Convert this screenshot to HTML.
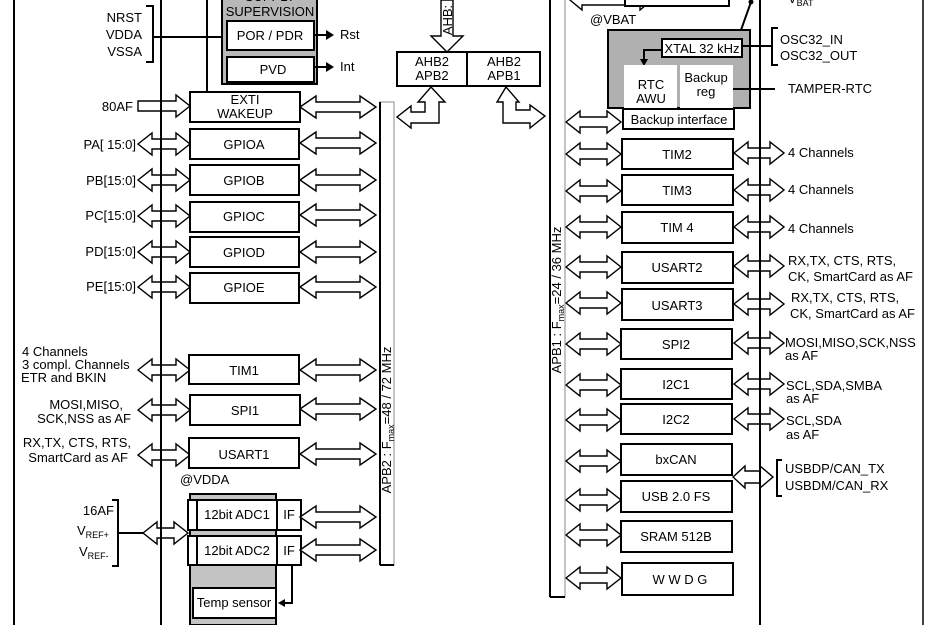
<!DOCTYPE html>
<html><head><meta charset="utf-8"><style>
html,body{margin:0;padding:0;background:#fff;}
svg{display:block;}
text{font-family:"Liberation Sans",Arial,sans-serif;font-size:13px;fill:#000;}
.b{fill:#fff;stroke:#000;stroke-width:2;}
.a{fill:#fff;stroke:#000;stroke-width:1.4;}
.l{stroke:#000;stroke-width:2;fill:none;}
</style></head><body>
<svg width="931" height="625" viewBox="0 0 931 625" xmlns="http://www.w3.org/2000/svg">
<defs>
<polygon id="la" class="a" points="138,0 152,-11 152,-5 176,-5 176,-11 190,0 176,11 176,5 152,5 152,11"/>
<polygon id="ra" class="a" points="300,0 316,-11 316,-5 360,-5 360,-11 376,0 360,11 360,5 316,5 316,11"/>
<polygon id="ba" class="a" points="566,0 580,-11 580,-5 607,-5 607,-11 621,0 607,11 607,5 580,5 580,11"/>
<polygon id="rr" class="a" points="734,0 748,-11 748,-5 770,-5 770,-11 784,0 770,11 770,5 748,5 748,11"/>
</defs>
<line x1="14" y1="0" x2="14" y2="625" class="l"/>
<line x1="923" y1="0" x2="923" y2="625" stroke="#000" stroke-width="1.5"/>
<line x1="207" y1="0" x2="207" y2="92" class="l"/>

<!-- supply supervision -->
<rect x="222" y="-4" width="95" height="88" fill="#b8b8b8" stroke="#000" stroke-width="2"/>
<text x="270" y="1" text-anchor="middle">SUPPLY</text>
<text x="270" y="16" text-anchor="middle">SUPERVISION</text>
<rect x="227" y="21" width="87" height="29" class="b"/>
<text x="270" y="40" text-anchor="middle">POR / PDR</text>
<rect x="227" y="57" width="87" height="25" class="b"/>
<text x="273" y="74" text-anchor="middle">PVD</text>
<line x1="314" y1="35" x2="328" y2="35" class="l"/><polygon points="326,30 334,35 326,40"/>
<text x="340" y="39">Rst</text>
<line x1="314" y1="67" x2="328" y2="67" class="l"/><polygon points="326,62 334,67 326,72"/>
<text x="340" y="71">Int</text>
<text x="142" y="22" text-anchor="end">NRST</text>
<text x="142" y="39" text-anchor="end">VDDA</text>
<text x="142" y="56" text-anchor="end">VSSA</text>
<polyline points="146,6 153,6 153,62 146,62" class="l"/>
<line x1="153" y1="37" x2="222" y2="37" class="l"/>

<!-- left column -->
<polygon class="a" points="138,101 176,101 176,95 190,106 176,117 176,111 138,111"/>
<text x="133" y="111" text-anchor="end">80AF</text>
<use href="#la" y="144"/><use href="#la" y="180"/><use href="#la" y="216"/><use href="#la" y="252"/><use href="#la" y="287"/>
<use href="#la" y="370"/><use href="#la" y="410"/><use href="#la" y="455"/>
<polygon class="a" points="143,533 157,522 157,528 174,528 174,522 188,533 174,544 174,538 157,538 157,544"/>
<line x1="161" y1="0" x2="161" y2="625" class="l"/>
<rect x="190" y="92" width="110" height="30" class="b"/>
<text x="245" y="104" text-anchor="middle">EXTI</text>
<text x="245" y="118" text-anchor="middle">WAKEUP</text>
<text x="136" y="149" text-anchor="end">PA[ 15:0]</text>
<text x="136" y="185" text-anchor="end">PB[15:0]</text>
<text x="136" y="220" text-anchor="end">PC[15:0]</text>
<text x="136" y="256" text-anchor="end">PD[15:0]</text>
<text x="136" y="291" text-anchor="end">PE[15:0]</text>
<rect x="190" y="129" width="109" height="30" class="b"/><text x="244" y="149" text-anchor="middle">GPIOA</text>
<rect x="190" y="165" width="109" height="30" class="b"/><text x="244" y="185" text-anchor="middle">GPIOB</text>
<rect x="190" y="202" width="109" height="30" class="b"/><text x="244" y="221" text-anchor="middle">GPIOC</text>
<rect x="190" y="237" width="109" height="30" class="b"/><text x="244" y="257" text-anchor="middle">GPIOD</text>
<rect x="190" y="273" width="109" height="30" class="b"/><text x="244" y="292" text-anchor="middle">GPIOE</text>
<text x="22" y="356">4 Channels</text>
<text x="22" y="369">3 compl. Channels</text>
<text x="21" y="382">ETR and BKIN</text>
<text x="123" y="409" text-anchor="end">MOSI,MISO,</text>
<text x="131" y="423" text-anchor="end">SCK,NSS as AF</text>
<text x="131" y="447" text-anchor="end">RX,TX, CTS, RTS,</text>
<text x="128" y="462" text-anchor="end">SmartCard as AF</text>
<rect x="189" y="355" width="110" height="29" class="b"/><text x="244" y="375" text-anchor="middle">TIM1</text>
<rect x="190" y="395" width="110" height="30" class="b"/><text x="245" y="415" text-anchor="middle">SPI1</text>
<rect x="189" y="438" width="110" height="30" class="b"/><text x="244" y="459" text-anchor="middle">USART1</text>
<text x="180" y="484">@VDDA</text>
<text x="114" y="515" text-anchor="end">16AF</text>
<text x="77" y="535">V<tspan font-size="9" dy="3">REF+</tspan></text>
<text x="79" y="556">V<tspan font-size="9" dy="3">REF-</tspan></text>
<polyline points="112,500 118,500 118,566 112,566" class="l"/>
<line x1="118" y1="533" x2="143" y2="533" class="l"/>
<rect x="190" y="494" width="86" height="131" fill="#c4c4c4" stroke="#000" stroke-width="2"/>
<rect x="188" y="500" width="113" height="30" class="b"/>
<line x1="197" y1="500" x2="197" y2="530" class="l"/><line x1="277" y1="500" x2="277" y2="530" class="l"/>
<text x="237" y="519" text-anchor="middle">12bit ADC1</text><text x="289" y="519" text-anchor="middle">IF</text>
<rect x="188" y="536" width="113" height="29" class="b"/>
<line x1="197" y1="536" x2="197" y2="565" class="l"/><line x1="277" y1="536" x2="277" y2="565" class="l"/>
<text x="237" y="555" text-anchor="middle">12bit ADC2</text><text x="289" y="555" text-anchor="middle">IF</text>
<rect x="193" y="588" width="83" height="30" class="b"/>
<text x="234" y="607" text-anchor="middle">Temp sensor</text>
<polyline points="292,565 292,603 284,603" class="l"/><polygon points="285,599 278,603 285,607"/>

<!-- APB2 -->
<use href="#ra" y="107"/><use href="#ra" y="143"/><use href="#ra" y="180"/><use href="#ra" y="215"/><use href="#ra" y="252"/><use href="#ra" y="287"/>
<use href="#ra" y="370"/><use href="#ra" y="409"/><use href="#ra" y="454"/><use href="#ra" y="517"/><use href="#ra" y="550"/>
<rect x="380" y="102" width="14" height="463" fill="#fff" stroke="#888" stroke-width="1"/>
<line x1="380" y1="102" x2="380" y2="565" class="l"/>
<line x1="380" y1="565" x2="394" y2="565" class="l"/>
<text transform="translate(391,420) rotate(-90)" text-anchor="middle" font-size="12">APB2 : F<tspan font-size="9" dy="3">max</tspan><tspan dy="-3">=48 / 72 MHz</tspan></text>

<!-- AHB -->
<polygon class="a" points="441,0 453,0 453,36 463,36 447,52 431,36 441,36"/>
<text transform="translate(452,20) rotate(-90)" text-anchor="middle" font-size="11">AHB:</text>
<rect x="397" y="52" width="143" height="34" class="b"/>
<line x1="467" y1="52" x2="467" y2="86" class="l"/>
<text x="432" y="66" text-anchor="middle">AHB2</text><text x="432" y="80" text-anchor="middle">APB2</text>
<text x="504" y="66" text-anchor="middle">AHB2</text><text x="504" y="80" text-anchor="middle">APB1</text>
<polygon class="a" stroke-width="2" points="431,87 445,102 439,102 439,123 411,123 411,128 397,117 411,106 411,112 425,112 425,102 418,102"/>
<polygon class="a" stroke-width="2" points="506,87 519,102 516,102 516,110 530,110 530,105 545,116 530,128 530,123 503,123 503,102 497,102"/>

<!-- APB1 -->
<polygon class="a" points="570,0 582,-10 582,-5 640,-5 640,-10 652,0 640,10 640,5 582,5 582,10"/>
<rect x="625" y="-4" width="104" height="10" class="b"/>
<use href="#ba" y="122"/><use href="#ba" y="154"/><use href="#ba" y="191"/><use href="#ba" y="227"/><use href="#ba" y="267"/><use href="#ba" y="303"/>
<use href="#ba" y="344"/><use href="#ba" y="385"/><use href="#ba" y="420"/><use href="#ba" y="461"/><use href="#ba" y="500"/><use href="#ba" y="535"/><use href="#ba" y="578"/>
<rect x="550" y="-2" width="15" height="599" fill="#fff" stroke="#888" stroke-width="1"/>
<line x1="550" y1="0" x2="550" y2="597" class="l"/>
<line x1="550" y1="597" x2="565" y2="597" class="l"/>
<text transform="translate(561,300) rotate(-90)" text-anchor="middle" font-size="12">APB1 : F<tspan font-size="9" dy="3">max</tspan><tspan dy="-3">=24 / 36 MHz</tspan></text>

<!-- right peripherals arrows then bus -->
<use href="#rr" y="153"/><use href="#rr" y="190"/><use href="#rr" y="227"/><use href="#rr" y="266"/><use href="#rr" y="304"/>
<use href="#rr" y="343"/><use href="#rr" y="384"/><use href="#rr" y="419"/>
<polygon class="a" points="733,477 745,466 745,471 760,471 760,466 773,477 760,488 760,483 745,483 745,488"/>
<line x1="760" y1="0" x2="760" y2="625" class="l"/>

<!-- VBAT domain -->
<text x="590" y="24">@VBAT</text>
<line x1="741" y1="30" x2="751" y2="2" class="l"/><circle cx="751" cy="2" r="2.5"/>
<text x="788" y="3">V<tspan font-size="9" dy="3">BAT</tspan></text>
<rect x="608" y="30" width="142" height="78" fill="#b0b0b0" stroke="#000" stroke-width="2"/>
<rect x="662" y="39" width="80" height="18" class="b"/>
<text x="702" y="53" text-anchor="middle">XTAL 32 kHz</text>
<polyline points="662,50 644,50 644,60" class="l"/><polygon points="640,59 648,59 644,66"/>
<rect x="624" y="65" width="53" height="43" fill="#fff"/>
<rect x="680" y="65" width="53" height="43" fill="#fff"/>
<text x="651" y="89" text-anchor="middle">RTC</text><text x="651" y="103" text-anchor="middle">AWU</text>
<text x="706" y="82" text-anchor="middle">Backup</text><text x="706" y="96" text-anchor="middle">reg</text>
<line x1="733" y1="89" x2="775" y2="89" class="l"/>
<text x="788" y="93">TAMPER-RTC</text>
<line x1="742" y1="46" x2="772" y2="46" class="l"/>
<polyline points="778,28 772,28 772,65 778,65" class="l"/>
<text x="780" y="44">OSC32_IN</text><text x="780" y="60">OSC32_OUT</text>
<rect x="623" y="109" width="111" height="20" class="b"/>
<text x="679" y="124" text-anchor="middle">Backup interface</text>

<rect x="622" y="139" width="111" height="30" class="b"/><text x="677" y="159" text-anchor="middle">TIM2</text>
<rect x="622" y="175" width="111" height="30" class="b"/><text x="677" y="195" text-anchor="middle">TIM3</text>
<rect x="622" y="212" width="111" height="31" class="b"/><text x="677" y="232" text-anchor="middle">TIM 4</text>
<rect x="622" y="252" width="111" height="31" class="b"/><text x="677" y="272" text-anchor="middle">USART2</text>
<rect x="622" y="289" width="111" height="31" class="b"/><text x="677" y="310" text-anchor="middle">USART3</text>
<rect x="621" y="329" width="111" height="30" class="b"/><text x="676" y="349" text-anchor="middle">SPI2</text>
<rect x="621" y="369" width="111" height="30" class="b"/><text x="676" y="389" text-anchor="middle">I2C1</text>
<rect x="621" y="404" width="111" height="30" class="b"/><text x="676" y="424" text-anchor="middle">I2C2</text>
<rect x="621" y="444" width="111" height="31" class="b"/><text x="676" y="464" text-anchor="middle">bxCAN</text>
<rect x="621" y="481" width="111" height="31" class="b"/><text x="676" y="501" text-anchor="middle">USB 2.0 FS</text>
<rect x="621" y="521" width="111" height="31" class="b"/><text x="676" y="541" text-anchor="middle">SRAM 512B</text>
<rect x="622" y="563" width="111" height="32" class="b"/><text x="680" y="584" text-anchor="middle">W W D G</text>
<text x="788" y="157">4 Channels</text>
<text x="788" y="194">4 Channels</text>
<text x="788" y="233">4 Channels</text>
<text x="788" y="265">RX,TX, CTS, RTS,</text><text x="788" y="281">CK, SmartCard as AF</text>
<text x="791" y="302">RX,TX, CTS, RTS,</text><text x="790" y="318">CK, SmartCard as AF</text>
<text x="785" y="347">MOSI,MISO,SCK,NSS</text><text x="785" y="360">as AF</text>
<text x="786" y="390">SCL,SDA,SMBA</text><text x="786" y="403">as AF</text>
<text x="786" y="425">SCL,SDA</text><text x="786" y="439">as AF</text>
<polyline points="782,460 777,460 777,496 782,496" class="l"/>
<text x="785" y="473">USBDP/CAN_TX</text><text x="785" y="490">USBDM/CAN_RX</text>
</svg>
</body></html>
